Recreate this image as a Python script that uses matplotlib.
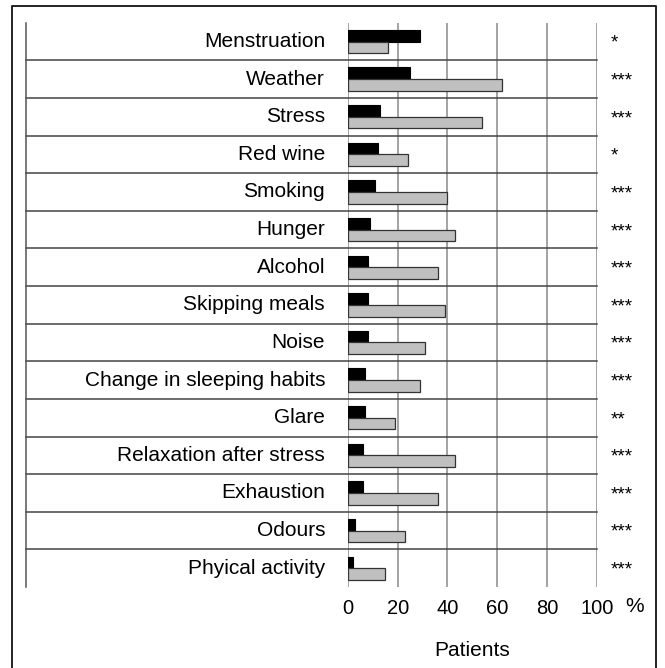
import numpy as np
import matplotlib
matplotlib.use("Agg")
from matplotlib import pyplot as plt
from matplotlib.lines import Line2D

plt.rcParams['font.family'] = ['Liberation Sans', 'DejaVu Sans']

triggers = ["Menstruation", "Weather", "Stress", "Red wine", "Smoking", "Hunger",
            "Alcohol", "Skipping meals", "Noise", "Change in sleeping habits", "Glare",
            "Relaxation after stress", "Exhaustion", "Odours", "Phyical activity"]
black_vals = [29, 25, 13, 12, 11, 9, 8, 8, 8, 7, 7, 6, 6, 3, 2]
gray_vals = [16, 62, 54, 24, 40, 43, 36, 39, 31, 29, 19, 43, 36, 23, 15]
signif = ["*", "***", "***", "*", "***", "***", "***", "***", "***", "***", "**",
          "***", "***", "***", "***"]
xticks = [0, 20, 40, 60, 80, 100]

W, H = 665, 668
fig = plt.figure(figsize=(W / 100, H / 100), dpi=100)
ax_bottom = 587
ax = fig.add_axes([348 / W, 1 - ax_bottom / H, (596.7 - 348) / W, (ax_bottom - 22.7) / H])

n = len(triggers)
y = np.arange(n)[::-1]
bh = 0.31
ax.barh(y + bh / 2, black_vals, height=bh, color='black', edgecolor='black', linewidth=0.8, zorder=3)
ax.barh(y - bh / 2, gray_vals, height=bh, color='#c0c0c0', edgecolor='#333333', linewidth=0.9, zorder=3)

ax.set_xlim(0, 100)
ax.set_ylim(-0.5, n - 0.5)
ax.set_xticks(xticks)
ax.set_xticklabels([str(t) for t in xticks], fontsize=14.5)
ax.tick_params(axis='x', length=0, pad=9)
ax.set_yticks([])
for s in ax.spines.values():
    s.set_visible(False)

for t in xticks:
    ax.axvline(t, color='#8a8a8a', linewidth=1.1, zorder=1)

# row separators, running out to the left line
left_frac = (26 - 348) / (596.7 - 348)
ytr = ax.get_yaxis_transform()
for k in range(n - 1):
    ax.plot([left_frac, 1], [k + 0.5, k + 0.5], color='#444444', linewidth=1.1,
            transform=ytr, clip_on=False, zorder=2)
ax.plot([left_frac, left_frac], [-0.5, n - 0.5], color='#555555', linewidth=1.1,
        transform=ytr, clip_on=False)

for yi, lab, st in zip(y, triggers, signif):
    ax.text(-0.092, yi, lab, transform=ytr, ha='right', va='center', fontsize=15)
    ax.text(1.057, yi - 0.05, st, transform=ytr, ha='left', va='center', fontsize=13.5)

# unit sign level with the tick labels, axis title below
fig.text(635 / W, 1 - 606 / H, "%", ha='center', va='center', fontsize=15)
fig.text(472 / W, 1 - 650 / H, "Patients", ha='center', va='center', fontsize=15)

# outer frame (open at the bottom)
fx0, fx1, fy = 12 / W, 656 / W, 1 - 6 / H
fig.add_artist(Line2D([fx0, fx0, fx1, fx1], [0, fy, fy, 0], color='#222222', linewidth=1.4))

fig.savefig("out.png", dpi=100)
